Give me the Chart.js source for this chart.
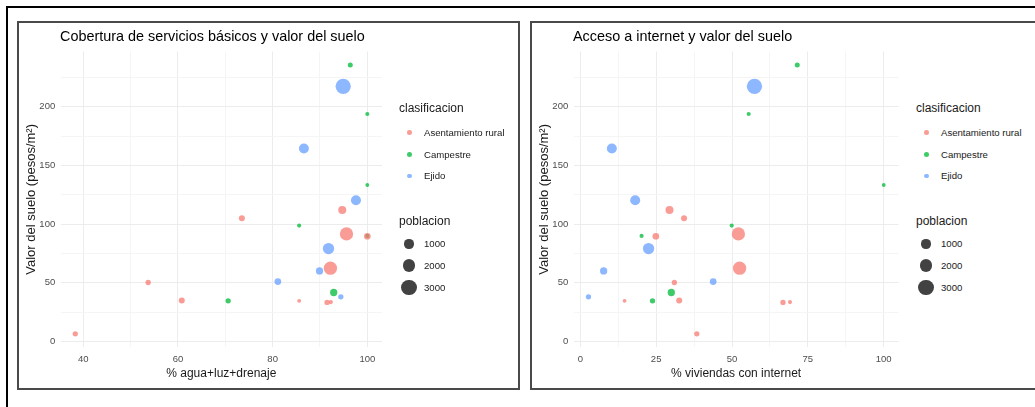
<!DOCTYPE html>
<html lang="es">
<head>
<meta charset="utf-8">
<title>Servicios, internet y valor del suelo</title>
<script src="https://cdn.jsdelivr.net/npm/chart.js@4.4.1/dist/chart.umd.min.js"></script>
<style>
  body { margin: 0; width: 1035px; height: 407px; overflow: hidden; background: #fff; position: relative;
         font-family: "Liberation Sans", Arial, sans-serif; }
  .marco { position: absolute; left: 6px; top: 6px; width: 1100px; height: 500px;
           border-top: 2px solid #000; border-left: 2px solid #000; }
  .panel { position: absolute; top: 21px; height: 369px; box-sizing: border-box; border: 2px solid #4a4a4a; }
  canvas { position: absolute; }
  .txt { position: absolute; white-space: nowrap; }
  .punto { position: absolute; border-radius: 50%; }
</style>
</head>
<body>
<div class="marco"></div>
<div class="panel" style="left:17px;width:503px"></div>
<div class="panel" style="left:530px;width:520px"></div>
<canvas id="graficoServicios" width="380" height="347" style="left:20px;top:40px"></canvas>
<canvas id="graficoInternet" width="380" height="347" style="left:533px;top:40px"></canvas>
<script>
// Datos por localidad
const clasificaciones = ['Asentamiento rural', 'Campestre', 'Ejido'];
const clase = [0, 0, 0, 1, 0, 2, 1, 0, 2, 2, 2, 0, 0, 0, 1, 2, 0, 2, 0, 1, 2, 1, 1, 0, 1];
const pctServicios = [38.3, 53.7, 60.8, 70.6, 73.5, 81.1, 85.6, 85.6, 86.6, 89.9, 91.8, 92.2, 91.5,
                      92.3, 92.9, 94.4, 94.7, 94.9, 95.6, 96.4, 97.6, 100, 100, 100, 100];
const pctInternet = [38.4, 31.0, 32.6, 23.8, 34.2, 43.8, 49.9, 14.6, 10.4, 7.7, 22.5, 52.5, 66.8,
                     69.1, 30.0, 2.7, 29.4, 57.4, 52.1, 71.5, 18.1, 55.5, 100, 24.9, 20.2];
const valorSuelo = [6.5, 50.2, 34.9, 34.6, 105, 51, 98.7, 34.6, 164.3, 60.1, 79.1, 62.4, 33.2,
                    33.5, 41.7, 38, 112, 217.3, 91.6, 235.5, 120.3, 193.8, 133.3, 89.6, 89.9];
const poblacion = [210, 210, 320, 210, 320, 440, 60, 30, 1180, 550, 1560, 2230, 210,
                   60, 550, 210, 700, 3000, 2230, 170, 1180, 60, 30, 440, 60];

// Marcas de los ejes
const ticksServicios = [40, 60, 80, 100];
const menoresServicios = [50, 70, 90];
const ticksInternet = [0, 25, 50, 75, 100];
const menoresInternet = [12.5, 37.5, 62.5, 87.5];
const ticksValor = [0, 50, 100, 150, 200];
const menoresValor = [25, 75, 125, 175, 225];
const breaksPoblacion = [1000, 2000, 3000];

const colores = ['rgba(248,118,109,0.72)', 'rgba(0,186,56,0.75)', 'rgba(97,156,255,0.72)'];
const TINTA = '#1a1a1a';

Chart.defaults.font.family = '"Liberation Sans", Arial, sans-serif';

// Radio del punto en px: el área crece linealmente con la población (como scale_size de ggplot)
function radio(p) {
    return Math.sqrt(3.17 + 0.01845 * p);
}

function ejeConMenores(mayores, menores) {
    return {
        afterBuildTicks: s => {
            s.ticks = mayores.concat(menores).sort((a, b) => a - b).map(v => ({ value: v }));
        },
        grid: {
            drawTicks: false,
            lineWidth: 1,
            color: ctx => mayores.includes(ctx.tick.value) ? '#ececec' : '#f5f5f5'
        },
        border: { display: false },
        ticks: {
            autoSkip: false,
            maxRotation: 0,
            color: '#4d4d4d',
            font: { size: 9.5 },
            callback: v => mayores.includes(v) ? String(v) : ''
        }
    };
}

function crearGrafico(id, xs, tituloX, rangoX, mayoresX, menoresX, anchoY, rellenoDer) {
    const conjuntos = clasificaciones.map((nombre, k) => ({
        label: nombre,
        data: xs.map((x, i) => ({ x: x, y: valorSuelo[i], r: radio(poblacion[i]), k: clase[i] }))
                .filter(d => d.k === k),
        backgroundColor: colores[k],
        borderWidth: 0,
        hoverBorderWidth: 0
    }));

    const ejeX = ejeConMenores(mayoresX, menoresX);
    ejeX.type = 'linear';
    ejeX.min = rangoX[0];
    ejeX.max = rangoX[1];
    ejeX.afterFit = s => { s.height = 39.7; };
    ejeX.ticks.padding = 6;
    ejeX.title = { display: true, text: tituloX, color: TINTA, font: { size: 12 }, padding: { top: 0, bottom: 6.5 } };

    const ejeY = ejeConMenores(ticksValor, menoresValor);
    ejeY.type = 'linear';
    ejeY.min = -5;
    ejeY.max = 247;
    ejeY.afterFit = s => { s.width = anchoY; };
    ejeY.ticks.padding = 5.4;
    ejeY.title = { display: true, text: 'Valor del suelo (pesos/m²)', color: TINTA, font: { size: 13 }, padding: { top: 3.3, bottom: 0 } };

    return new Chart(document.getElementById(id), {
        type: 'bubble',
        data: { datasets: conjuntos },
        options: {
            responsive: false,
            animation: false,
            devicePixelRatio: 1,
            layout: { padding: { left: 0, top: 11.5, right: rellenoDer, bottom: 0 } },
            plugins: { legend: { display: false }, tooltip: { enabled: false } },
            scales: { x: ejeX, y: ejeY }
        }
    });
}

function agregarTexto(t, x, yc, size, color) {
    const d = document.createElement('div');
    d.className = 'txt';
    d.textContent = t;
    const lh = size * 1.2;
    d.style.cssText = `left:${x}px;top:${yc - lh / 2}px;font-size:${size}px;line-height:${lh}px;color:${color}`;
    document.body.appendChild(d);
}

function agregarPunto(cx, cy, r, color) {
    const d = document.createElement('div');
    d.className = 'punto';
    d.style.cssText = `left:${cx - r}px;top:${cy - r}px;width:${2 * r}px;height:${2 * r}px;background:${color}`;
    document.body.appendChild(d);
}

// Leyenda al estilo ggplot: color por clasificación y tamaño por población
function dibujarLeyenda(dx) {
    agregarTexto('clasificacion', 399 + dx, 108, 12, TINTA);
    clasificaciones.forEach((nombre, k) => {
        const y = 132.7 + k * 21.6;
        agregarPunto(409.7 + dx, y, 2.3, colores[k]);
        agregarTexto(nombre, 424 + dx, y, 9.6, TINTA);
    });
    agregarTexto('poblacion', 399 + dx, 220.7, 12, TINTA);
    breaksPoblacion.forEach((p, k) => {
        const y = 244 + k * 21.65;
        agregarPunto(409 + dx, y, radio(p), 'rgba(0,0,0,0.74)');
        agregarTexto(String(p), 424 + dx, y, 9.6, TINTA);
    });
}

document.addEventListener('DOMContentLoaded', () => {
    crearGrafico('graficoServicios', pctServicios, '% agua+luz+drenaje', [35.2, 103.1],
                 ticksServicios, menoresServicios, 40.6, 18);
    crearGrafico('graficoInternet', pctInternet, '% viviendas con internet', [-2.2, 104.9],
                 ticksInternet, menoresInternet, 40.6, 14.4);

    agregarTexto('Cobertura de servicios básicos y valor del suelo', 60, 36.7, 14.4, '#000');
    agregarTexto('Acceso a internet y valor del suelo', 573, 36.7, 14.4, '#000');
    dibujarLeyenda(0);
    dibujarLeyenda(517);
});
</script>
</body>
</html>
